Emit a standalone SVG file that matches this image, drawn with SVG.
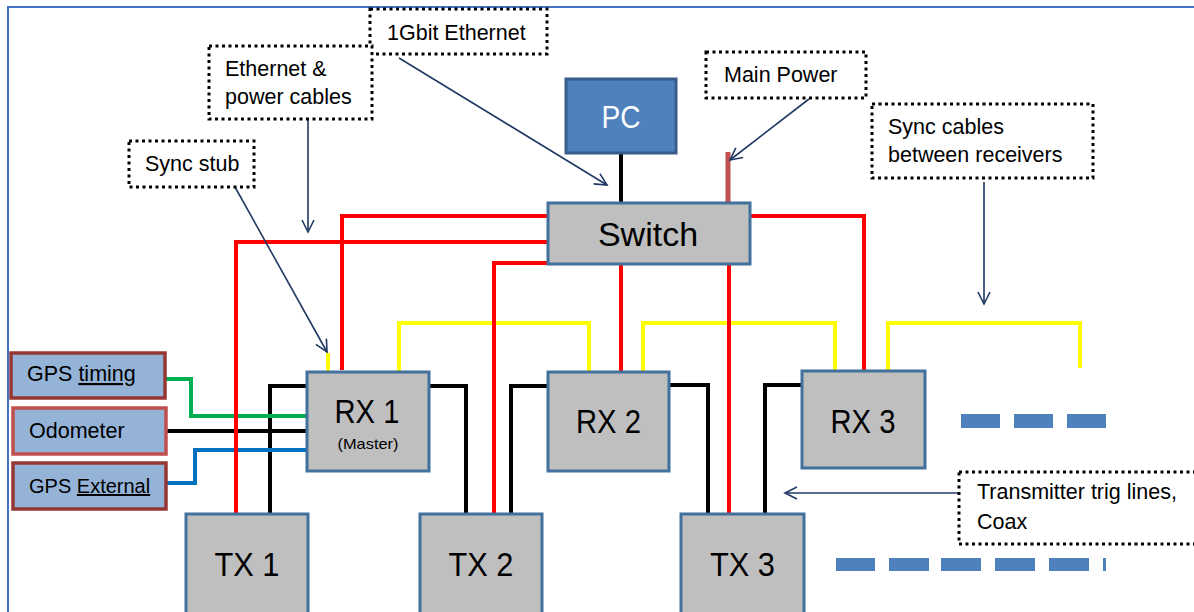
<svg xmlns="http://www.w3.org/2000/svg" width="1194" height="612" viewBox="0 0 1194 612">
<defs>
<style>
text{font-family:"Liberation Sans",Arial,sans-serif;fill:#000}
.lbl{font-size:21.5px}
.big{font-size:33px;text-anchor:middle}
.note{fill:#fff;stroke:#000;stroke-width:3;stroke-dasharray:3 3.5}
.dev{fill:#BFBFBF;stroke:#41719C;stroke-width:3}
.side{fill:#95B3D7;stroke-width:3.5}
.red{fill:none;stroke:#FF0000;stroke-width:4}
.yel{fill:none;stroke:#FFFF00;stroke-width:4}
.blk{fill:none;stroke:#000;stroke-width:4}
.arr{fill:none;stroke:#203864;stroke-width:1.6;marker-end:url(#ah)}
.dash{fill:#4F81BD}
</style>
<marker id="ah" markerUnits="userSpaceOnUse" markerWidth="16" markerHeight="16" refX="13" refY="7" orient="auto">
<path d="M1,1 L13,7 L1,13" fill="none" stroke="#203864" stroke-width="1.6"/>
</marker>
</defs>
<rect width="1194" height="612" fill="#fff"/>
<path d="M8,612 V7 H1194" fill="none" stroke="#4472C4" stroke-width="2"/>

<g id="connectors">
<path class="blk" d="M621,153 V203"/>
<path d="M728,152 V203" fill="none" stroke="#C0504D" stroke-width="5"/>
<path class="blk" d="M307,386 H270 V514"/>
<path class="blk" d="M429,386 H466 V514"/>
<path class="blk" d="M548,386 H511 V514"/>
<path class="blk" d="M669,385 H708 V514"/>
<path class="blk" d="M802,385 H765 V514"/>
<path d="M165,379 H191 V416 H307" fill="none" stroke="#00B050" stroke-width="4"/>
<path class="blk" d="M166,431 H307"/>
<path d="M166,483 H195 V450 H307" fill="none" stroke="#0070C0" stroke-width="4"/>
<path class="yel" d="M328,353 V372"/>
<path class="yel" d="M399,372 V323 H589 V372"/>
<path class="yel" d="M643,372 V323 H835 V370"/>
<path class="yel" d="M888,370 V323 H1080 V368"/>
<path class="red" d="M342,370 V216 H548"/>
<path class="red" d="M236,514 V242 H548"/>
<path class="red" d="M494,514 V263 H548"/>
<path class="red" d="M750,216 H864 V370"/>
<path class="red" d="M621,265 V372"/>
<path class="red" d="M729,265 V514"/>
<path class="arr" d="M308,119 V232"/>
<path class="arr" d="M235,187 L327,352"/>
<path class="arr" d="M399,58 L607,185"/>
<path class="arr" d="M809,99 L730,160"/>
<path class="arr" d="M984,182 V304"/>
<path class="arr" d="M959,493 H785"/>
</g>

<g id="n-1gbit"><rect class="note" x="370" y="9" width="177" height="45"/><text class="lbl" x="387" y="40">1Gbit Ethernet</text></g>
<g id="n-ethpower"><rect class="note" x="209" y="46" width="163" height="73"/><text class="lbl" x="225" y="76">Ethernet &amp;</text><text class="lbl" x="225" y="104">power cables</text></g>
<g id="n-syncstub"><rect class="note" x="129" y="141" width="125" height="46"/><text class="lbl" x="145" y="171">Sync stub</text></g>
<g id="n-mainpower"><rect class="note" x="706" y="52" width="160" height="46"/><text class="lbl" x="724" y="82">Main Power</text></g>
<g id="n-synccables"><rect class="note" x="872" y="104" width="221" height="74"/><text class="lbl" x="888" y="134">Sync cables</text><text class="lbl" x="888" y="162">between receivers</text></g>
<g id="n-trig"><rect class="note" x="959" y="472" width="245" height="72"/><text class="lbl" x="977" y="499">Transmitter trig lines,</text><text class="lbl" x="977" y="529">Coax</text></g>

<g id="pc"><rect x="566" y="79" width="110" height="74" fill="#4F81BD" stroke="#385D8A" stroke-width="3"/><text x="621" y="128" style="font-size:32px;text-anchor:middle;fill:#fff" textLength="39" lengthAdjust="spacingAndGlyphs">PC</text></g>
<g id="switch"><rect class="dev" x="548" y="203" width="202" height="61"/><text x="648" y="246" style="font-size:34px;text-anchor:middle">Switch</text></g>

<g id="rx1"><rect class="dev" x="307" y="372" width="122" height="99"/><text class="big" x="367" y="423" textLength="65" lengthAdjust="spacingAndGlyphs">RX 1</text><text x="368" y="449" style="font-size:14.5px;text-anchor:middle" textLength="61" lengthAdjust="spacingAndGlyphs">(Master)</text></g>
<g id="rx2"><rect class="dev" x="548" y="372" width="121" height="99"/><text class="big" x="608.5" y="433" textLength="65" lengthAdjust="spacingAndGlyphs">RX 2</text></g>
<g id="rx3"><rect class="dev" x="802" y="371" width="123" height="97"/><text class="big" x="863" y="433" textLength="65" lengthAdjust="spacingAndGlyphs">RX 3</text></g>

<g id="tx1"><rect class="dev" x="186" y="514" width="122" height="110"/><text class="big" x="247" y="576" textLength="65" lengthAdjust="spacingAndGlyphs">TX 1</text></g>
<g id="tx2"><rect class="dev" x="420" y="514" width="122" height="110"/><text class="big" x="481" y="576" textLength="65" lengthAdjust="spacingAndGlyphs">TX 2</text></g>
<g id="tx3"><rect class="dev" x="681" y="514" width="123" height="110"/><text class="big" x="742.5" y="576" textLength="65" lengthAdjust="spacingAndGlyphs">TX 3</text></g>

<g id="gps-timing"><rect class="side" x="11" y="353" width="154" height="45" stroke="#953735"/><text class="lbl" x="27" y="381">GPS <tspan text-decoration="underline">timing</tspan></text></g>
<g id="odometer"><rect class="side" x="13" y="408" width="153" height="46" stroke="#C0504D"/><text class="lbl" x="29" y="438">Odometer</text></g>
<g id="gps-external"><rect class="side" x="13" y="463" width="153" height="46" stroke="#953735"/><text x="29" y="493" style="font-size:20px">GPS <tspan text-decoration="underline">External</tspan></text></g>

<g id="more-rx">
<rect class="dash" x="961" y="414" width="39" height="14"/>
<rect class="dash" x="1014" y="414" width="39" height="14"/>
<rect class="dash" x="1067" y="414" width="39" height="14"/>
</g>
<g id="more-tx">
<rect class="dash" x="836" y="558" width="39" height="13"/>
<rect class="dash" x="889" y="558" width="40" height="13"/>
<rect class="dash" x="941" y="558" width="40" height="13"/>
<rect class="dash" x="995" y="558" width="40" height="13"/>
<rect class="dash" x="1049" y="558" width="40" height="13"/>
<rect class="dash" x="1103" y="558" width="3" height="13"/>
</g>
</svg>
